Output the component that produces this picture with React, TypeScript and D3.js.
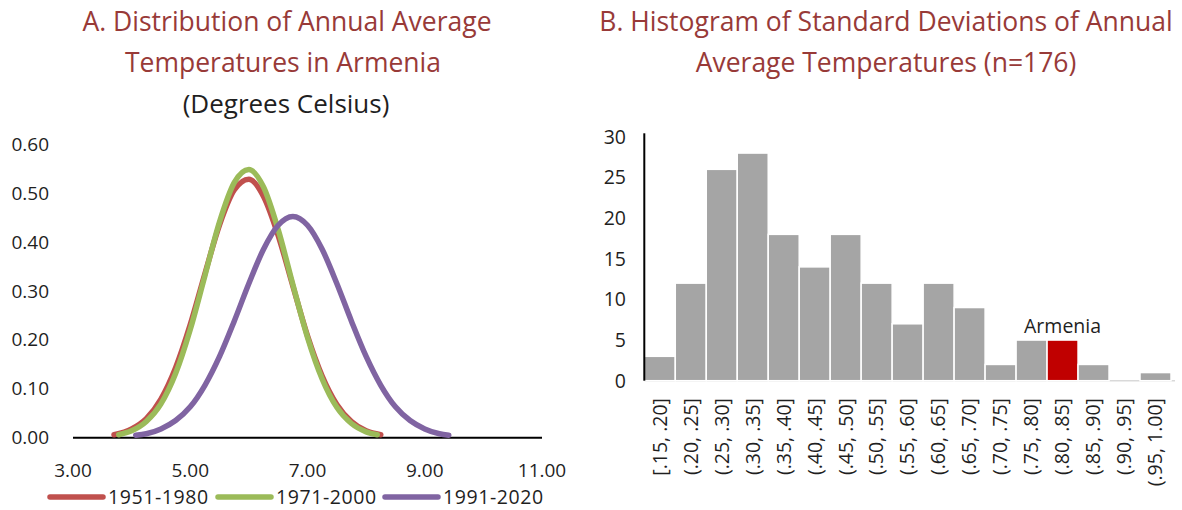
import React from "react";
import * as d3 from "d3";

// panel A: density curves
const tempX1 = [3.7, 4.0, 4.25, 4.5, 4.75, 5.0, 5.25, 5.5, 5.75, 6.0, 6.25, 6.5, 6.75, 7.0, 7.25, 7.5, 7.75, 8.0, 8.25];
const dens1951 = [0.006, 0.018, 0.039, 0.079, 0.143, 0.231, 0.335, 0.435, 0.506, 0.528, 0.493, 0.413, 0.31, 0.208, 0.126, 0.068, 0.033, 0.014, 0.006];
const tempX2 = [3.78, 4.0, 4.25, 4.5, 4.75, 5.0, 5.25, 5.5, 5.75, 6.0, 6.25, 6.5, 6.75, 7.0, 7.25, 7.5, 7.75, 8.0, 8.19];
const dens1971 = [0.006, 0.014, 0.033, 0.069, 0.131, 0.221, 0.331, 0.441, 0.521, 0.548, 0.512, 0.425, 0.313, 0.205, 0.12, 0.062, 0.029, 0.012, 0.006];
const tempX3 = [4.07, 4.25, 4.5, 4.75, 5.0, 5.25, 5.5, 5.75, 6.0, 6.25, 6.5, 6.75, 7.0, 7.25, 7.5, 7.75, 8.0, 8.25, 8.5, 8.75, 9.0, 9.25, 9.41];
const dens1991 = [0.005, 0.008, 0.018, 0.035, 0.063, 0.107, 0.166, 0.238, 0.315, 0.385, 0.434, 0.452, 0.434, 0.385, 0.315, 0.238, 0.166, 0.107, 0.063, 0.035, 0.018, 0.008, 0.005];
const seriesNames = ["1951-1980", "1971-2000", "1991-2020"];
const seriesColors = ["#C0504D", "#9BBB59", "#8064A2"];
const xTicksA = [3, 5, 7, 9, 11];
const yTicksA = [0, 0.1, 0.2, 0.3, 0.4, 0.5, 0.6];

// panel B: histogram counts
const bins = ["[.15, .20]", "(.20, .25]", "(.25, .30]", "(.30, .35]", "(.35, .40]", "(.40, .45]", "(.45, .50]", "(.50, .55]", "(.55, .60]", "(.60, .65]", "(.65, .70]", "(.70, .75]", "(.75, .80]", "(.80, .85]", "(.85, .90]", "(.90, .95]", "(.95, 1.00]"];
const counts = [3, 12, 26, 28, 18, 14, 18, 12, 7, 12, 9, 2, 5, 5, 2, 0, 1];
const highlightBin = "(.80, .85]";
const yTicksB = [0, 5, 10, 15, 20, 25, 30];

const FONT = "'Open Sans', 'Noto Sans', sans-serif";
const TITLE = "#983A38";
const TXT = "#1F1F1F";

export default function App() {
  // left chart scales
  const x = d3.scaleLinear().domain([3, 11]).range([73, 542]);
  const y = d3.scaleLinear().domain([0, 0.6]).range([437.7, 144]);
  const line = d3
    .line<[number, number]>()
    .x((d) => x(d[0]))
    .y((d) => y(d[1]))
    .curve(d3.curveMonotoneX);
  const curves = [
    d3.zip(tempX1, dens1951),
    d3.zip(tempX2, dens1971),
    d3.zip(tempX3, dens1991),
  ] as [number, number][][];

  // right chart scales
  const xb = d3.scaleBand().domain(bins).range([644.3, 1171]).padding(0);
  const yb = d3.scaleLinear().domain([0, 30]).range([380.7, 136.8]);

  const legendX = [50, 218, 385];

  return (
    <svg
      width={1182}
      height={510}
      style={{ position: "absolute", left: 0, top: 0, background: "#fff" }}
      fontFamily={FONT}
    >
      {/* titles */}
      <g textAnchor="middle" fill={TITLE} fontSize={26.5}>
        <text x={287} y={31}>A. Distribution of Annual Average</text>
        <text x={283} y={72}>Temperatures in Armenia</text>
        <text x={886} y={31}>B. Histogram of Standard Deviations of Annual</text>
        <text x={886} y={72}>Average Temperatures (n=176)</text>
      </g>
      <text x={286} y={113} textAnchor="middle" fill={TXT} fontSize={26}>
        (Degrees Celsius)
      </text>

      {/* panel A axes */}
      <g fontSize={19} fill={TXT}>
        {yTicksA.map((t) => (
          <text key={t} x={49} y={y(t)} dy="0.35em" textAnchor="end">
            {t.toFixed(2)}
          </text>
        ))}
        {xTicksA.map((t) => (
          <text key={t} x={x(t)} y={477} textAnchor="middle">
            {t.toFixed(2)}
          </text>
        ))}
      </g>
      <line x1={x(3)} x2={x(11)} y1={y(0)} y2={y(0)} stroke="#000" strokeWidth={2} />

      {curves.map((c, i) => (
        <path
          key={i}
          d={line(c) || ""}
          fill="none"
          stroke={seriesColors[i]}
          strokeWidth={5.5}
          strokeLinecap="round"
        />
      ))}

      {/* legend */}
      <g fontSize={19.5} fill={TXT}>
        {seriesNames.map((n, i) => (
          <g key={n}>
            <line
              x1={legendX[i]}
              x2={legendX[i] + 53}
              y1={497}
              y2={497}
              stroke={seriesColors[i]}
              strokeWidth={5.5}
              strokeLinecap="round"
            />
            <text x={legendX[i] + 58} y={504} letterSpacing={0.6}>
              {n}
            </text>
          </g>
        ))}
      </g>

      {/* panel B */}
      <line x1={644.3} x2={1175} y1={yb(0)} y2={yb(0)} stroke="#D9D9D9" strokeWidth={1.5} />
      {bins.map((b, i) => (
        <rect
          key={b}
          x={xb(b)}
          y={yb(counts[i])}
          width={xb.bandwidth()}
          height={yb(0) - yb(counts[i])}
          fill={b === highlightBin ? "#C00000" : "#A5A5A5"}
          stroke="#fff"
          strokeWidth={1.5}
        />
      ))}
      <line x1={644.3} x2={644.3} y1={133.3} y2={yb(0)} stroke="#000" strokeWidth={2} />
      <g fontSize={19.5} fill={TXT}>
        {yTicksB.map((t) => (
          <text key={t} x={626} y={yb(t)} dy="0.35em" textAnchor="end">
            {t}
          </text>
        ))}
      </g>
      <g fontSize={19.5} fill={TXT}>
        {bins.map((b) => {
          const cx = (xb(b) || 0) + xb.bandwidth() / 2;
          return (
            <text
              key={b}
              transform={`translate(${cx},398) rotate(-90)`}
              dy="0.35em"
              textAnchor="end"
            >
              {b}
            </text>
          );
        })}
      </g>
      <text
        x={(xb(highlightBin) || 0) + xb.bandwidth() / 2}
        y={333}
        textAnchor="middle"
        fontSize={19.5}
        fill={TXT}
      >
        Armenia
      </text>
    </svg>
  );
}
